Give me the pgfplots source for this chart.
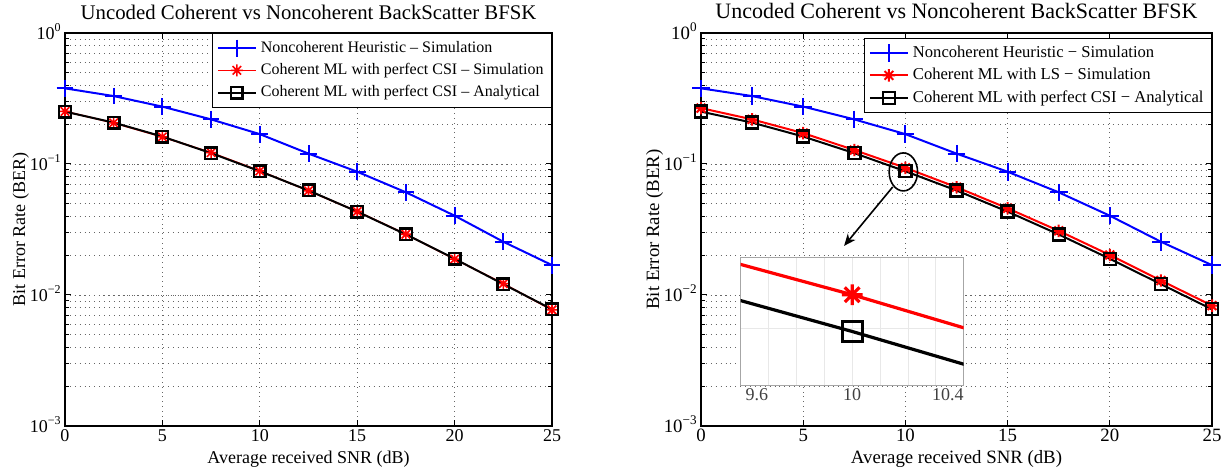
\documentclass[border=0pt]{standalone}
\usepackage{fontspec}
\setmainfont{Liberation Serif}
\usepackage{pgfplots}
\usepackage{pgfplotstable}
\pgfplotsset{compat=1.18}
\usetikzlibrary{arrows.meta}

% MATLAB-like '*' marker (eight spokes)
\pgfdeclareplotmark{mstar}{%
  \pgfpathmoveto{\pgfqpoint{0pt}{\pgfplotmarksize}}\pgfpathlineto{\pgfqpoint{0pt}{-\pgfplotmarksize}}%
  \pgfpathmoveto{\pgfqpoint{\pgfplotmarksize}{0pt}}\pgfpathlineto{\pgfqpoint{-\pgfplotmarksize}{0pt}}%
  \pgfpathmoveto{\pgfqpoint{0.707\pgfplotmarksize}{0.707\pgfplotmarksize}}\pgfpathlineto{\pgfqpoint{-0.707\pgfplotmarksize}{-0.707\pgfplotmarksize}}%
  \pgfpathmoveto{\pgfqpoint{0.707\pgfplotmarksize}{-0.707\pgfplotmarksize}}\pgfpathlineto{\pgfqpoint{-0.707\pgfplotmarksize}{0.707\pgfplotmarksize}}%
  \pgfusepathqstroke}

% nc = noncoherent sim, sim = coherent perfect CSI sim, ana = analytical, ls = coherent LS sim
\pgfplotstableread{
snr   nc      sim     ana      ls
0     0.378   0.252   0.251    0.267
2.5   0.330   0.206   0.207    0.219
5     0.274   0.161   0.162    0.172
7.5   0.219   0.122   0.121    0.1278
10    0.169   0.0885  0.088    0.0935
12.5  0.120   0.0625  0.0628   0.0665
15    0.0873  0.0434  0.0433   0.0459
17.5  0.0608  0.0291  0.029    0.0309
20    0.0403  0.0188  0.0189   0.0202
22.5  0.0255  0.0122  0.0121   0.0129
25    0.0169  0.0077  0.00778  0.0083
}\berdata

\begin{document}
\begin{tikzpicture}
\path[use as bounding box] (0,0) rectangle (613.5pt,235pt);

% left panel
\begin{axis}[at={(32.5pt,22pt)}, anchor=south west,
  scale only axis, width=243.5pt, height=196.5pt,
  ymode=log, xmin=0, xmax=25, ymin=0.001, ymax=1,
  xtick={0,5,10,15,20,25}, xticklabels={0,5,10,15,20,25},
  ytick={0.001,0.01,0.1,1},
  yticklabels={10\textsuperscript{−3},10\textsuperscript{−2},10\textsuperscript{−1},10\textsuperscript{0}},
  xmajorgrids, ymajorgrids, yminorgrids,
  grid style={dotted, black!60, line width=0.45pt},
  minor grid style={dotted, black!60, line width=0.45pt},
  axis line style={line width=0.7pt},
  tick style={black, line width=0.5pt},
  major tick length=3pt, minor tick length=1.8pt,
  xticklabel style={anchor=base, yshift=-8pt, inner sep=0pt},
  yticklabel style={anchor=base east, yshift=-3.1pt, xshift=-1.5pt, inner sep=0pt},
  xlabel={Average received SNR (dB)},
  ylabel={Bit Error Rate (BER)},
  xlabel style={at={(axis description cs:0.5,0)}, anchor=base, yshift=-18.5pt},
  ylabel style={at={(axis description cs:-0.082,0.5)}, anchor=base},
  title={Uncoded Coherent vs Noncoherent BackScatter BFSK},
  every axis title/.style={at={(axis description cs:0.5,1)}, anchor=base, yshift=6.5pt, font=\fontsize{10.4}{12}\selectfont},
  label style={font=\fontsize{9}{10}\selectfont},
  tick label style={font=\fontsize{9}{10}\selectfont},
  legend cell align=left,
  legend image code/.code={\draw[mark repeat=2,mark phase=2,#1] plot coordinates {(0pt,0pt)(9.5pt,0pt)(19pt,0pt)};},
  legend style={at={(1,1)}, anchor=north east, font=\fontsize{8}{9}\selectfont,
    draw=black, line width=0.5pt, fill=white, inner xsep=2pt, inner ysep=1.8pt}]
\addplot[blue, line width=1pt, mark=+, mark size=4.2pt] table[x=snr,y=nc] {\berdata};
\addplot[red, line width=0.8pt, mark=mstar, mark size=3pt] table[x=snr,y=sim] {\berdata};
\addplot[black, line width=1pt, mark=square, mark size=2.9pt, mark options={line width=1.2pt}] table[x=snr,y=ana] {\berdata};
\legend{Noncoherent Heuristic -- Simulation, Coherent ML with perfect CSI -- Simulation, Coherent ML with perfect CSI -- Analytical}
\end{axis}

% right panel
\begin{axis}[at={(350.5pt,22pt)}, anchor=south west,
  scale only axis, width=255.5pt, height=196.5pt,
  ymode=log, xmin=0, xmax=25, ymin=0.001, ymax=1,
  xtick={0,5,10,15,20,25}, xticklabels={0,5,10,15,20,25},
  ytick={0.001,0.01,0.1,1},
  yticklabels={10\textsuperscript{−3},10\textsuperscript{−2},10\textsuperscript{−1},10\textsuperscript{0}},
  xmajorgrids, ymajorgrids, yminorgrids,
  grid style={dotted, black!60, line width=0.45pt},
  minor grid style={dotted, black!60, line width=0.45pt},
  axis line style={line width=0.7pt},
  tick style={black, line width=0.5pt},
  major tick length=3pt, minor tick length=1.8pt,
  xticklabel style={anchor=base, yshift=-8pt, inner sep=0pt},
  yticklabel style={anchor=base east, yshift=-3.1pt, xshift=-1.5pt, inner sep=0pt},
  xlabel={Average received SNR (dB)},
  ylabel={Bit Error Rate (BER)},
  xlabel style={at={(axis description cs:0.5,0)}, anchor=base, yshift=-18.5pt},
  ylabel style={at={(axis description cs:-0.082,0.5)}, anchor=base},
  title={Uncoded Coherent vs Noncoherent BackScatter BFSK},
  every axis title/.style={at={(axis description cs:0.5,1)}, anchor=base, yshift=7pt, font=\fontsize{11}{12}\selectfont},
  label style={font=\fontsize{9.4}{10}\selectfont},
  tick label style={font=\fontsize{9.4}{10}\selectfont},
  legend cell align=left,
  legend image code/.code={\draw[mark repeat=2,mark phase=2,#1] plot coordinates {(0pt,0pt)(9.5pt,0pt)(19pt,0pt)};},
  legend style={at={(axis description cs:1,0.987)}, anchor=north east, font=\fontsize{8.3}{9}\selectfont,
    draw=black, line width=0.5pt, fill=white, inner xsep=2pt, inner ysep=1.5pt}]
\addplot[blue, line width=1pt, mark=+, mark size=4.4pt] table[x=snr,y=nc] {\berdata};
\addplot[red, line width=1pt, mark=mstar, mark size=3.1pt] table[x=snr,y=ls] {\berdata};
\addplot[black, line width=1pt, mark=square, mark size=3pt, mark options={line width=1.2pt}] table[x=snr,y=ana] {\berdata};
\legend{Noncoherent Heuristic − Simulation, Coherent ML with LS − Simulation, Coherent ML with perfect CSI − Analytical}
\draw[line width=0.8pt] (axis cs:9.9,0.087) ellipse [x radius=7.1pt, y radius=9.5pt];
\draw[line width=0.8pt, -{Stealth[length=6pt,width=5pt]}] (axis cs:9.38,0.0668) -- (axis cs:7.0,0.0237);
\coordinate (insw) at (axis cs:1.94,0.00204);
\end{axis}

% zoomed inset around SNR = 10 dB
\begin{axis}[at={(insw)}, anchor=south west, scale only axis, width=111.5pt, height=64.2pt,
  ymode=log, xmin=9.6, xmax=10.4, ymin=0.0805, ymax=0.0995,
  xtick={9.6,9.7,9.8,9.9,10,10.1,10.2,10.3,10.4},
  xticklabels={\makebox[0pt][l]{\hspace{2.5pt}9.6},,,,10,,,,\makebox[0pt][r]{10.4}},
  ytick={0.0885}, yticklabels={}, yminorticks=false,
  major tick length=0pt, grid=major, grid style={gray!18, line width=0.4pt},
  axis line style={gray!70, line width=0.5pt},
  axis background/.style={fill=white},
  xticklabel style={anchor=base, yshift=-7.5pt, inner sep=0pt, text=black!75, font=\fontsize{9}{10}\selectfont}]
\addplot[red, line width=1.6pt, mark=mstar, mark size=5.2pt] table[x=snr,y=ls] {\berdata};
\addplot[black, line width=1.6pt, mark=square, mark size=5pt, mark options={line width=1.6pt}] table[x=snr,y=ana] {\berdata};
\end{axis}
\end{tikzpicture}
\end{document}
